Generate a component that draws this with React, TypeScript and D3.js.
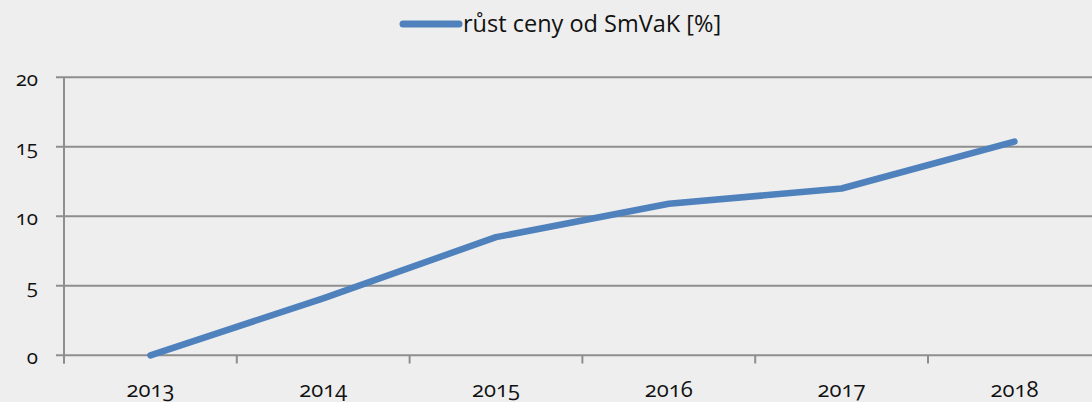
import React from "react";
import * as d3 from "d3";

const categories = ["2013", "2014", "2015", "2016", "2017", "2018"];
const values = [0, 4.1, 8.5, 10.9, 12.0, 15.37];
const yTicks = [0, 5, 10, 15, 20];
const seriesName = "růst ceny od SmVaK [%]";

const W = 1092;
const H = 402;
const FONT = "'Open Sans', Lato, sans-serif";

export default function App() {
  const left = 64;
  const bandW = 172.8;
  const x = d3
    .scaleBand<string>()
    .domain(categories)
    .range([left, left + bandW * categories.length]);
  const y = d3.scaleLinear().domain([0, 20]).range([355.3, 77.3]);
  const line = d3
    .line<number>()
    .x((_, i) => (x(categories[i]) as number) + x.bandwidth() / 2)
    .y((d) => y(d));
  const gridColor = "#8e8e8e";
  const boundaries = d3.range(categories.length + 1).map((i) => left + i * x.bandwidth());
  const numStyle = { fontVariantNumeric: "oldstyle-nums" } as React.CSSProperties;

  return (
    <div style={{ position: "absolute", left: 0, top: 0 }}>
      <svg width={W} height={H} style={{ display: "block", background: "#eeeeee" }}>
        <rect x={0} y={0} width={W} height={H} fill="#eeeeee" />
        {yTicks.map((t) => (
          <g key={t}>
            <line x1={56} x2={W} y1={y(t)} y2={y(t)} stroke={gridColor} strokeWidth={2} />
            <text
              x={38}
              y={y(t) + 8.5}
              textAnchor="end"
              fontFamily={FONT}
              fontSize={20.5}
              fill="#111"
              style={numStyle}
            >
              {t}
            </text>
          </g>
        ))}
        <line x1={left} x2={left} y1={y(20)} y2={363.5} stroke={gridColor} strokeWidth={2} />
        {boundaries.map((b, i) => (
          <line key={i} x1={b} x2={b} y1={y(0)} y2={363.5} stroke={gridColor} strokeWidth={2} />
        ))}
        {categories.map((c) => (
          <text
            key={c}
            x={(x(c) as number) + x.bandwidth() / 2}
            y={397}
            textAnchor="middle"
            fontFamily={FONT}
            fontSize={22}
            fill="#111"
            style={numStyle}
          >
            {c}
          </text>
        ))}
        <path
          d={line(values) || ""}
          fill="none"
          stroke="#4f81bd"
          strokeWidth={6.5}
          strokeLinecap="round"
          strokeLinejoin="round"
        />
        <line x1={403} x2={459} y1={24} y2={24} stroke="#4f81bd" strokeWidth={7} strokeLinecap="round" />
        <text x={463} y={32} fontFamily={FONT} fontSize={23.5} fill="#111">
          {seriesName}
        </text>
      </svg>
    </div>
  );
}
